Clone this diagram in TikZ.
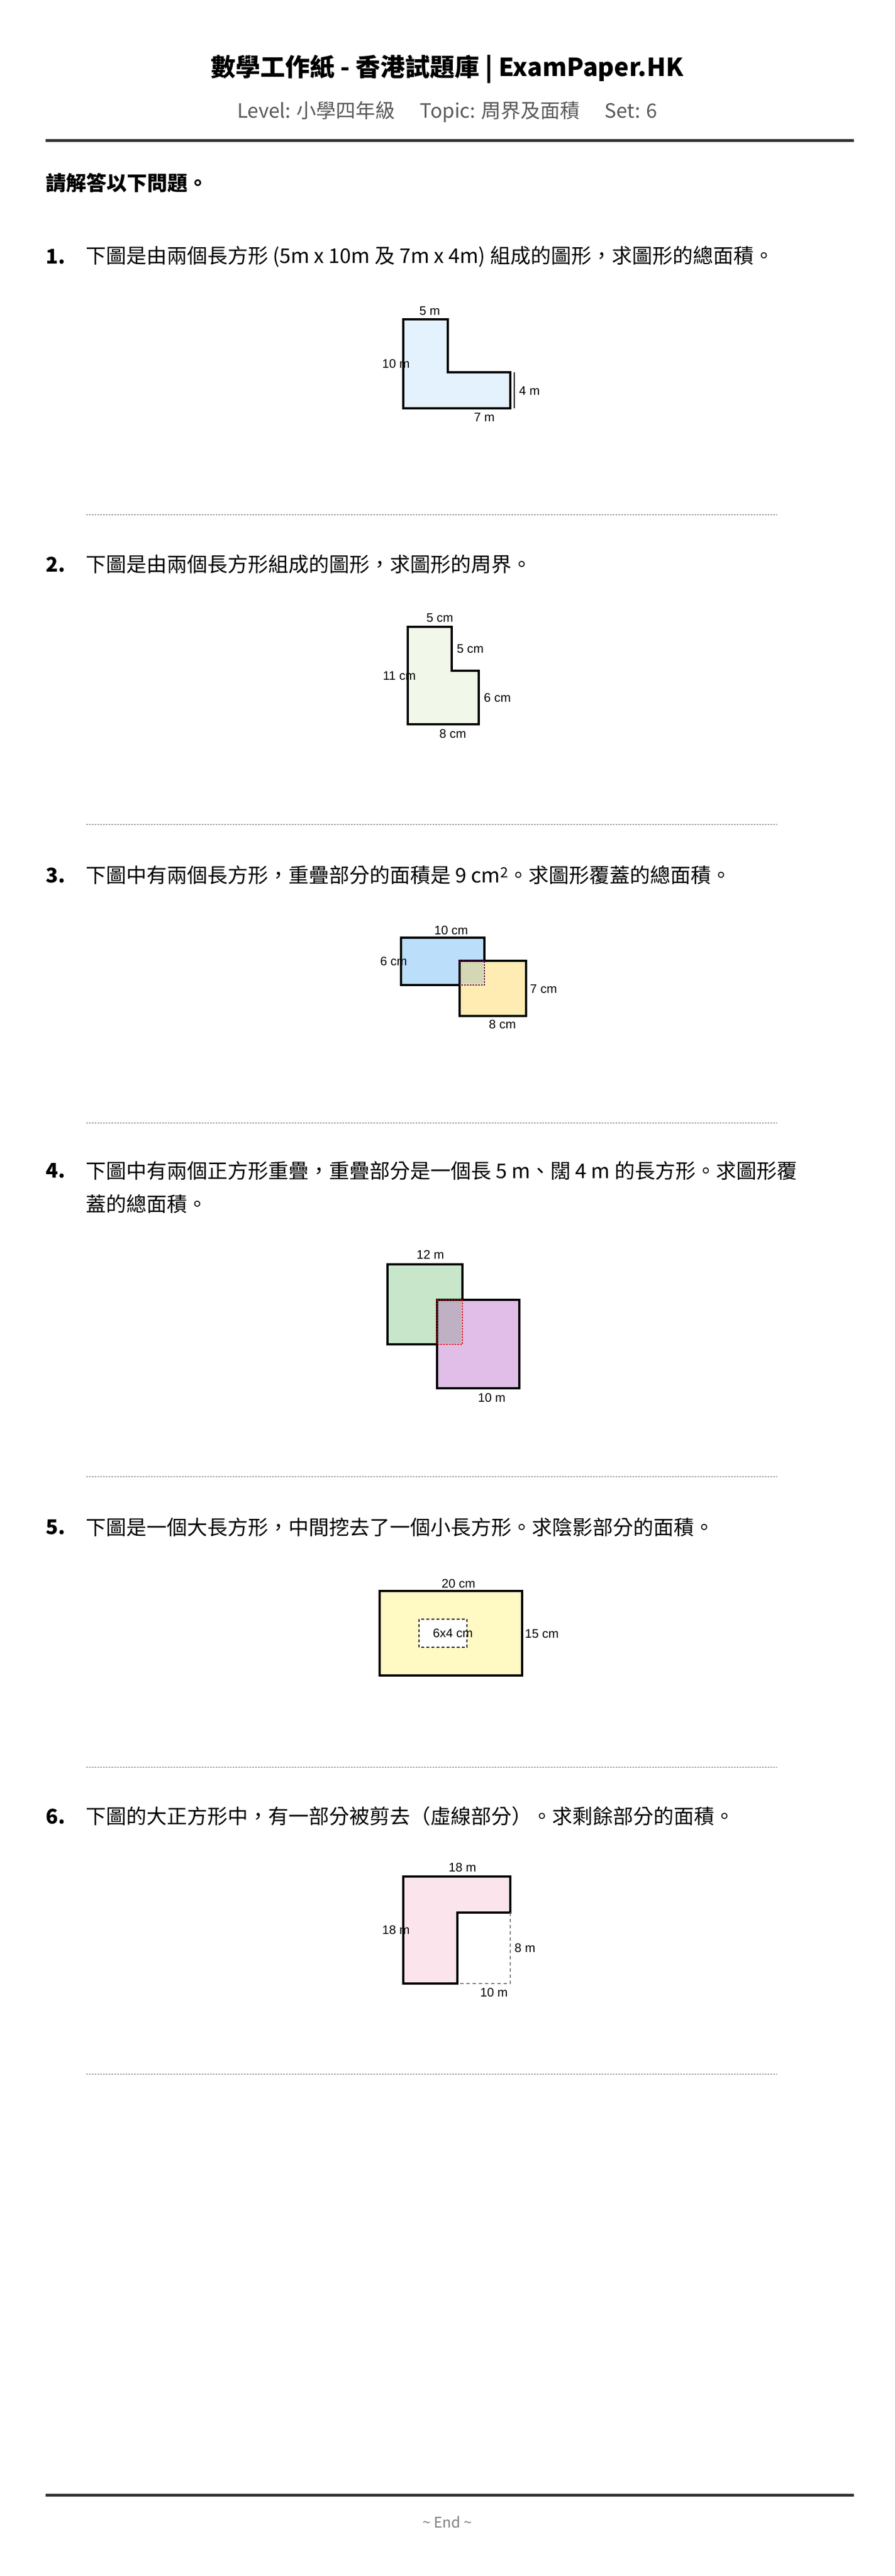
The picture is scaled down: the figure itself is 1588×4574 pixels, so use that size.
\documentclass[tikz,border=0pt]{standalone}
\usepackage{fontspec}
\setmainfont{Noto Sans CJK TC}
\newfontfamily\lblfont{Liberation Sans}
\definecolor{cA}{HTML}{E3F2FD}
\definecolor{cB}{HTML}{F1F8E9}
\definecolor{cC}{HTML}{BBDEFB}
\definecolor{cD}{HTML}{FFECB3}
\definecolor{cDo}{HTML}{D3D7B3}
\definecolor{cE}{HTML}{C8E6C9}
\definecolor{cF}{HTML}{E1BEE7}
\definecolor{cFo}{HTML}{BFB1C3}
\definecolor{cG}{HTML}{FFF9C4}
\definecolor{cH}{HTML}{FCE4EC}
\begin{document}
\begin{tikzpicture}[x=1pt,y=-1pt,
  q/.style={anchor=west,inner sep=0pt,font=\fontsize{36}{44}\selectfont},
  qn/.style={anchor=west,inner sep=0pt,font=\fontsize{36}{44}\selectfont\bfseries},
  lbl/.style={inner sep=0pt,font=\lblfont\fontsize{22}{26}\selectfont},
  shp/.style={draw=black,line width=3.5pt,line join=miter},
  sep/.style={draw=gray!70,line width=1.5pt,dash pattern=on 3pt off 2pt},
  rule/.style={draw=black!80,line width=5pt}]
\path[use as bounding box,fill=white] (0,0) rectangle (1588,4574);
% header
\node[inner sep=0pt,font=\fontsize{44}{52}\selectfont\bfseries] (title) at (794,123) {數學工作紙 - 香港試題庫 | ExamPaper.HK};
\node[inner sep=0pt,text=black!65,font=\fontsize{35}{42}\selectfont] (sub) at (794,199) {Level: 小學四年級\hspace{44pt}Topic: 周界及面積\hspace{44pt}Set: 6};
\coordinate (r1a) at (81,249); \coordinate (r1b) at (1516,249);
\draw[rule] (r1a) -- (r1b);
\node[anchor=west,inner sep=0pt,font=\fontsize{36}{44}\selectfont\bfseries] (intro) at (81,325) {請解答以下問題。};
% Q1
\node[qn] (n1) at (81,456) {1.};
\node[q] (t1) at (152,456) {下圖是由兩個長方形 (5m x 10m 及 7m x 4m) 組成的圖形，求圖形的總面積。};
\draw[shp,fill=cA] (716,567) -- (795,567) -- (795,661) -- (906,661) -- (906,725) -- (716,725) -- cycle;
\draw[line width=1.5pt] (913,661) -- (913,725);
\node[lbl] (l1a) at (763,552) {5 m};
\node[lbl] (l1b) at (703,646) {10 m};
\node[lbl] (l1c) at (940,694) {4 m};
\node[lbl] (l1d) at (860,741) {7 m};
\coordinate (s1a) at (153,914); \coordinate (s1b) at (1380,914);
\draw[sep] (s1a) -- (s1b);
% Q2
\node[qn] (n2) at (81,1002) {2.};
\node[q] (t2) at (152,1002) {下圖是由兩個長方形組成的圖形，求圖形的周界。};
\draw[shp,fill=cB] (724,1113) -- (802,1113) -- (802,1191) -- (850,1191) -- (850,1286) -- (724,1286) -- cycle;
\node[lbl] (l2a) at (781,1097) {5 cm};
\node[lbl] (l2b) at (835,1152) {5 cm};
\node[lbl] (l2c) at (709,1200) {11 cm};
\node[lbl] (l2d) at (883,1239) {6 cm};
\node[lbl] (l2e) at (804,1303) {8 cm};
\coordinate (s2a) at (153,1464); \coordinate (s2b) at (1380,1464);
\draw[sep] (s2a) -- (s2b);
% Q3
\node[qn] (n3) at (81,1554) {3.};
\node[q] (t3) at (152,1554) {下圖中有兩個長方形，重疊部分的面積是 9 cm\textsuperscript{2}。求圖形覆蓋的總面積。};
\draw[shp,fill=cC] (712,1665) rectangle (860,1749);
\draw[shp,fill=cD] (816,1706) rectangle (934,1804);
\fill[fill=cDo] (818,1708) rectangle (858,1747);
\draw[line width=1.5pt,dash pattern=on 3pt off 2pt,draw=violet!70!black] (816,1706) -- (860,1706) -- (860,1749) -- (816,1749) -- cycle;
\node[lbl] (l3a) at (801,1652) {10 cm};
\node[lbl] (l3b) at (699,1707) {6 cm};
\node[lbl] (l3c) at (965,1756) {7 cm};
\node[lbl] (l3d) at (892,1819) {8 cm};
\coordinate (s3a) at (153,1994); \coordinate (s3b) at (1380,1994);
\draw[sep] (s3a) -- (s3b);
% Q4
\node[qn] (n4) at (81,2079) {4.};
\node[q] (t4) at (152,2079) {下圖中有兩個正方形重疊，重疊部分是一個長 5 m、闊 4 m 的長方形。求圖形覆};
\node[q] (t4b) at (152,2138) {蓋的總面積。};
\draw[shp,fill=cE] (688,2245) rectangle (821,2387);
\draw[shp,fill=cF] (776,2308) rectangle (922,2465);
\fill[fill=cFo] (778,2310) rectangle (819,2385);
\draw[line width=1.5pt,dash pattern=on 3pt off 2pt,draw=red!85!black] (776,2308) -- (821,2308) -- (821,2387) -- (776,2387) -- cycle;
\node[lbl] (l4a) at (764,2228) {12 m};
\node[lbl] (l4b) at (873,2482) {10 m};
\coordinate (s4a) at (153,2622); \coordinate (s4b) at (1380,2622);
\draw[sep] (s4a) -- (s4b);
% Q5
\node[qn] (n5) at (81,2712) {5.};
\node[q] (t5) at (152,2712) {下圖是一個大長方形，中間挖去了一個小長方形。求陰影部分的面積。};
\draw[shp,fill=cG] (674,2825) rectangle (927,2975);
\draw[line width=1.5pt,dash pattern=on 5pt off 4pt,fill=white] (744,2875) rectangle (829,2925);
\node[lbl] (l5a) at (814,2812) {20 cm};
\node[lbl] (l5b) at (804,2900) {6x4 cm};
\node[lbl] (l5c) at (962,2901) {15 cm};
\coordinate (s5a) at (153,3138); \coordinate (s5b) at (1380,3138);
\draw[sep] (s5a) -- (s5b);
% Q6
\node[qn] (n6) at (81,3225) {6.};
\node[q] (t6) at (152,3225) {下圖的大正方形中，有一部分被剪去（虛線部分）。求剩餘部分的面積。};
\draw[shp,fill=cH] (716,3332) -- (906,3332) -- (906,3396) -- (812,3396) -- (812,3522) -- (716,3522) -- cycle;
\draw[draw=gray,line width=1.5pt,dash pattern=on 6pt off 5pt] (906,3396) -- (906,3522) -- (812,3522);
\node[lbl] (l6a) at (821,3316) {18 m};
\node[lbl] (l6b) at (703,3427) {18 m};
\node[lbl] (l6c) at (932,3459) {8 m};
\node[lbl] (l6d) at (877,3538) {10 m};
\coordinate (s6a) at (153,3683); \coordinate (s6b) at (1380,3683);
\draw[sep] (s6a) -- (s6b);
% footer
\coordinate (r2a) at (81,4430); \coordinate (r2b) at (1516,4430);
\draw[rule] (r2a) -- (r2b);
\node[inner sep=0pt,text=black!50,font=\fontsize{26}{30}\selectfont] (end) at (794,4478) {\textasciitilde{} End \textasciitilde{}};
\end{tikzpicture}
\end{document}
